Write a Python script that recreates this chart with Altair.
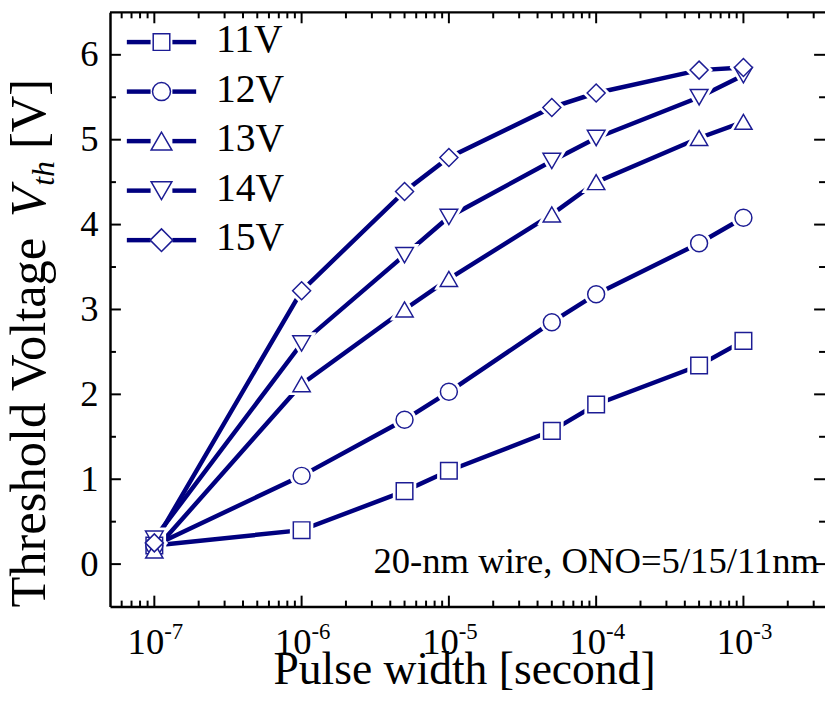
import altair as alt
import pandas as pd

# ---------------- data ----------------
pulse_width = [1e-7, 1e-6, 5e-6, 1e-5, 5e-5, 1e-4, 5e-4, 1e-3]
series_names = ["11V", "12V", "13V", "14V", "15V"]
vth_11v = [0.22, 0.40, 0.86, 1.10, 1.57, 1.88, 2.34, 2.63]
vth_12v = [0.22, 1.04, 1.70, 2.03, 2.85, 3.18, 3.78, 4.08]
vth_13v = [0.16, 2.12, 3.00, 3.36, 4.12, 4.50, 5.02, 5.21]
vth_14v = [0.30, 2.60, 3.64, 4.09, 4.75, 5.02, 5.50, 5.76]
vth_15v = [0.25, 3.22, 4.39, 4.79, 5.38, 5.55, 5.82, 5.85]
series_values = [vth_11v, vth_12v, vth_13v, vth_14v, vth_15v]

x_major_ticks = [1e-7, 1e-6, 1e-5, 1e-4, 1e-3]
x_tick_base = ["10", "10", "10", "10", "10"]
x_tick_exponents = ["-7", "-6", "-5", "-4", "-3"]
x_minor_ticks = [6e-8, 7e-8, 8e-8, 9e-8,
                 2e-7, 3e-7, 4e-7, 5e-7, 6e-7, 7e-7, 8e-7, 9e-7,
                 2e-6, 3e-6, 4e-6, 5e-6, 6e-6, 7e-6, 8e-6, 9e-6,
                 2e-5, 3e-5, 4e-5, 5e-5, 6e-5, 7e-5, 8e-5, 9e-5,
                 2e-4, 3e-4, 4e-4, 5e-4, 6e-4, 7e-4, 8e-4, 9e-4,
                 2e-3, 3e-3]
y_major_ticks = [0, 1, 2, 3, 4, 5, 6]
y_minor_ticks = [0.5, 1.5, 2.5, 3.5, 4.5, 5.5]

x_title = ["Pulse width [second]"]
annotation = ["20-nm wire, ONO=5/15/11nm"]

# ---------------- styles ----------------
FONT = "Liberation Serif"
NAVY = "#00007f"
SYM = "#1c1c94"
W, H = 722, 600
series_shapes = ["square", "circle", "triangle-up", "triangle-down", "diamond"]
series_sizes = [280, 330, 440, 440, 520]

rows = []
for name, vals in zip(series_names, series_values):
    for pw, v in zip(pulse_width, vals):
        rows.append({"series": name, "pw": pw, "vth": v})
df = pd.DataFrame(rows)

x_scale = alt.Scale(type="log", domain=[5e-8, 3.58e-3], nice=False)
y_scale = alt.Scale(domain=[-0.5, 6.5], nice=False, zero=False)
x_axis = alt.Axis(domain=True, domainColor="black", domainWidth=2.5, ticks=False,
                  labels=False, grid=False, title=None)
y_axis = alt.Axis(domain=True, domainColor="black", domainWidth=2.5, ticks=False, tickSize=0,
                  labels=True, labelFont=FONT, labelFontSize=37, labelColor="black",
                  labelPadding=12, values=y_major_ticks, format="d", grid=False, title=None)

X = alt.X("pw:Q", scale=x_scale, axis=x_axis)
Y = alt.Y("vth:Q", scale=y_scale, axis=y_axis)
shape_enc = alt.Shape("series:N", scale=alt.Scale(domain=series_names, range=series_shapes), legend=None)
size_enc = alt.Size("series:N", scale=alt.Scale(domain=series_names, range=series_sizes), legend=None)

lines = alt.Chart(df).mark_line(color=NAVY, strokeWidth=4.5).encode(x=X, y=Y, detail="series:N")
halo = alt.Chart(df).mark_point(filled=True, fill="white", stroke="white", strokeWidth=7,
                                opacity=1).encode(x=X, y=Y, shape=shape_enc, size=size_enc)
symbols = alt.Chart(df).mark_point(filled=True, fill="white", stroke=SYM, strokeWidth=1.5,
                                   opacity=1, fillOpacity=1).encode(x=X, y=Y, shape=shape_enc, size=size_enc)

layers = [lines, halo, symbols]

# tick marks (inward)
def xticks(values, y0, y1):
    return alt.Chart(pd.DataFrame({"pw": values})).mark_rule(color="black", strokeWidth=2).encode(
        x=alt.X("pw:Q", scale=x_scale, axis=x_axis), y=alt.value(y0), y2=alt.value(y1))

def yticks(values, x0, x1):
    return alt.Chart(pd.DataFrame({"vth": values})).mark_rule(color="black", strokeWidth=2).encode(
        y=alt.Y("vth:Q", scale=y_scale, axis=y_axis), x=alt.value(x0), x2=alt.value(x1))

layers += [
    xticks(x_major_ticks, H, H - 11), xticks(x_minor_ticks, H, H - 6),
    xticks(x_major_ticks, 0, 11), xticks(x_minor_ticks, 0, 6),
    yticks(y_major_ticks, 0, 11), yticks(y_minor_ticks, 0, 6),
    yticks(y_major_ticks, W, W - 11), yticks(y_minor_ticks, W, W - 6),
]

# top frame
layers.append(alt.Chart(pd.DataFrame({"a": [0]})).mark_rule(color="black", strokeWidth=2.5).encode(
    x=alt.value(0), x2=alt.value(W), y=alt.value(0)))

# x tick labels with superscript exponents
xlab = pd.DataFrame({"pw": x_major_ticks, "base": x_tick_base, "exp": x_tick_exponents})
layers.append(alt.Chart(xlab).mark_text(font=FONT, fontSize=37, align="right", baseline="alphabetic",
                                        color="black", dx=10).encode(
    x=alt.X("pw:Q", scale=x_scale, axis=x_axis), y=alt.value(H + 48), text="base:N"))
layers.append(alt.Chart(xlab).mark_text(font=FONT, fontSize=23, align="left", baseline="alphabetic",
                                        color="black", dx=10).encode(
    x=alt.X("pw:Q", scale=x_scale, axis=x_axis), y=alt.value(H + 33), text="exp:N"))

# x title
layers.append(alt.Chart(pd.DataFrame({"t": x_title})).mark_text(
    font=FONT, fontSize=46, align="center", baseline="alphabetic", color="black").encode(
    x=alt.value(358), y=alt.value(678), text="t:N"))

# y title pieces (rotated)
ytitle_parts = [
    ("Threshold Voltage", 0, 0, 51, "normal"),
    ("V", 394, 0, 51, "italic"),
    ("th", 426, 9, 32, "italic"),
    ("[V]", 463, 0, 51, "normal"),
]
for txt, dx, dy, fs, style in ytitle_parts:
    layers.append(alt.Chart(pd.DataFrame({"t": [txt]})).mark_text(
        font=FONT, fontSize=fs, fontStyle=style, align="left", baseline="alphabetic",
        angle=270, dx=dx, dy=dy, color="black").encode(
        x=alt.value(-66), y=alt.value(601), text="t:N"))

# annotation
layers.append(alt.Chart(pd.DataFrame({"t": annotation})).mark_text(
    font=FONT, fontSize=37, align="left", baseline="alphabetic", color="black").encode(
    x=alt.value(266), y=alt.value(566), text="t:N"))

# manual legend
for i, (name, shp, sz) in enumerate(zip(series_names, series_shapes, series_sizes)):
    cy = 30 + 50 * i
    ldf = pd.DataFrame({"series": [name]})
    layers.append(alt.Chart(ldf).mark_rule(color=NAVY, strokeWidth=4.5).encode(
        x=alt.value(17), x2=alt.value(41), y=alt.value(cy)))
    layers.append(alt.Chart(ldf).mark_rule(color=NAVY, strokeWidth=4.5).encode(
        x=alt.value(63), x2=alt.value(87), y=alt.value(cy)))
    layers.append(alt.Chart(ldf).mark_point(shape=shp, size=sz, filled=True, fill="white",
                                            stroke=SYM, strokeWidth=1.5, opacity=1).encode(
        x=alt.value(52), y=alt.value(cy)))
    layers.append(alt.Chart(ldf).mark_text(font=FONT, fontSize=40, align="left",
                                           baseline="alphabetic", color="black").encode(
        x=alt.value(107), y=alt.value(cy + 10), text="series:N"))

chart = alt.layer(*layers).properties(
    width=W, height=H,
    autosize=alt.AutoSizeParams(type="none"),
    padding={"left": 103, "top": 1, "right": 0, "bottom": 97},
).configure_view(stroke=None)

chart.save("out.html", embed_options={"renderer": "svg", "actions": False})
